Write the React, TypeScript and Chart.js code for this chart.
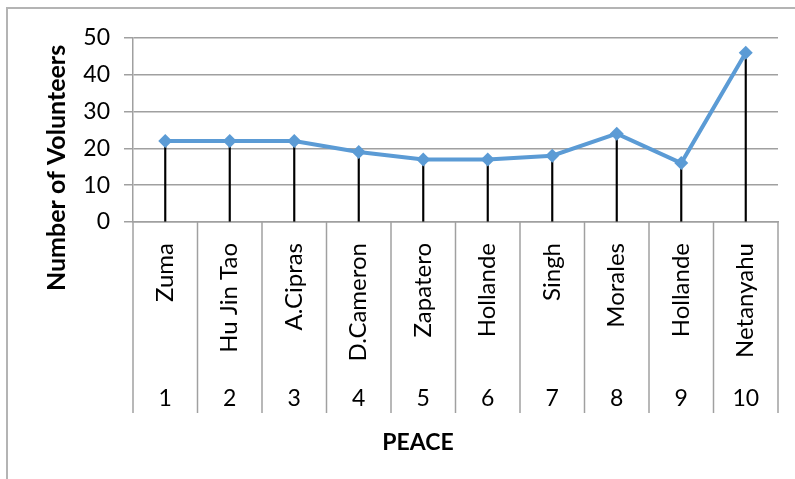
import React, { useEffect, useRef } from "react";
import { Chart, registerables } from "chart.js";

Chart.register(...registerables);

// Leaders and their index numbers on the two-level category axis
const leaders = ["Zuma", "Hu Jin Tao", "A.Cipras", "D.Cameron", "Zapatero", "Hollande", "Singh", "Morales", "Hollande", "Netanyahu"];
const indexLabels = ["1", "2", "3", "4", "5", "6", "7", "8", "9", "10"];
const volunteers = [22, 22, 22, 19, 17, 17, 18, 24, 16, 46];
const yTicks = [0, 10, 20, 30, 40, 50];

const xTitle = "PEACE";
const yTitle = "Number of Volunteers";

const FONT = "Lato, 'Open Sans', sans-serif";
const GRID = "#a0a0a0";
const LINE_BLUE = "#5b9bd5";

// Draws the outer frame, the boxed two-level category axis and both axis titles
const decorations = {
  id: "decorations",
  afterDraw(chart: Chart) {
    const { ctx, chartArea } = chart;
    const x = chart.scales.x;
    const n = leaders.length;
    const step = (chartArea.right - chartArea.left) / n;
    const boxBottom = chartArea.bottom + 191;

    ctx.save();
    // outer frame
    ctx.strokeStyle = "#b4b4b4";
    ctx.lineWidth = 2;
    ctx.beginPath();
    ctx.moveTo(7, chart.height);
    ctx.lineTo(7, 8);
    ctx.lineTo(chart.width, 8);
    ctx.stroke();

    // category separators
    ctx.strokeStyle = GRID;
    ctx.lineWidth = 1.5;
    for (let i = 0; i <= n; i++) {
      const px = chartArea.left + i * step;
      ctx.beginPath();
      ctx.moveTo(px, chartArea.bottom);
      ctx.lineTo(px, boxBottom);
      ctx.stroke();
    }

    ctx.fillStyle = "#000";
    for (let i = 0; i < n; i++) {
      const cx = x.getPixelForValue(i);
      // rotated leader names, ending near the axis
      ctx.font = `24px ${FONT}`;
      ctx.save();
      ctx.translate(cx, chartArea.bottom + 21);
      ctx.rotate(-Math.PI / 2);
      ctx.textAlign = "right";
      ctx.textBaseline = "middle";
      ctx.fillText(leaders[i], 0, 0);
      ctx.restore();
      // index numbers
      ctx.font = `23px ${FONT}`;
      ctx.textAlign = "center";
      ctx.textBaseline = "middle";
      ctx.fillText(indexLabels[i], cx, chartArea.bottom + 177);
    }

    // axis titles
    ctx.textAlign = "center";
    ctx.textBaseline = "middle";
    ctx.font = `bold 23px ${FONT}`;
    ctx.fillText(xTitle, 418, 443);
    ctx.font = `bold 25px ${FONT}`;
    ctx.save();
    ctx.translate(57, 168);
    ctx.rotate(-Math.PI / 2);
    ctx.fillText(yTitle, 0, 0);
    ctx.restore();
    ctx.restore();
  },
};

export default function App() {
  const canvasRef = useRef<HTMLCanvasElement | null>(null);

  useEffect(() => {
    document.body.style.margin = "0";
    const canvas = canvasRef.current;
    if (!canvas) return;
    const chart = new Chart(canvas, {
      type: "line",
      data: {
        labels: leaders,
        datasets: [
          {
            type: "line",
            data: volunteers,
            borderColor: LINE_BLUE,
            backgroundColor: LINE_BLUE,
            borderWidth: 4,
            pointStyle: "rectRot",
            pointRadius: 7,
            pointBorderWidth: 0,
            tension: 0,
            order: 0,
          },
          {
            // drop lines from each point to the axis
            type: "bar",
            data: volunteers,
            backgroundColor: "#000",
            barThickness: 1.5,
            order: 1,
          } as any,
        ],
      },
      options: {
        responsive: false,
        animation: false,
        layout: { padding: { left: 0, right: 17, top: 38, bottom: 0 } },
        plugins: { legend: { display: false }, tooltip: { enabled: false } },
        scales: {
          x: {
            type: "category",
            offset: true,
            grid: { display: false },
            border: { display: true, color: GRID, width: 1.5 },
            ticks: { display: false },
            afterFit(scale: any) {
              scale.height = 257;
            },
          },
          y: {
            min: yTicks[0],
            max: yTicks[yTicks.length - 1],
            afterBuildTicks(scale: any) {
              scale.ticks = yTicks.map((v) => ({ value: v }));
            },
            grid: { color: GRID, lineWidth: 1.5, tickLength: 9 },
            border: { display: true, color: GRID, width: 1.5 },
            ticks: { color: "#000", font: { family: FONT, size: 23 }, padding: 14 },
            afterFit(scale: any) {
              scale.width = 133;
            },
          },
        },
      },
      plugins: [decorations],
    });
    return () => chart.destroy();
  }, []);

  return (
    <div style={{ position: "absolute", left: 0, top: 0, width: 795, height: 479, background: "#fff" }}>
      <canvas ref={canvasRef} width={795} height={479} style={{ display: "block" }} />
    </div>
  );
}
